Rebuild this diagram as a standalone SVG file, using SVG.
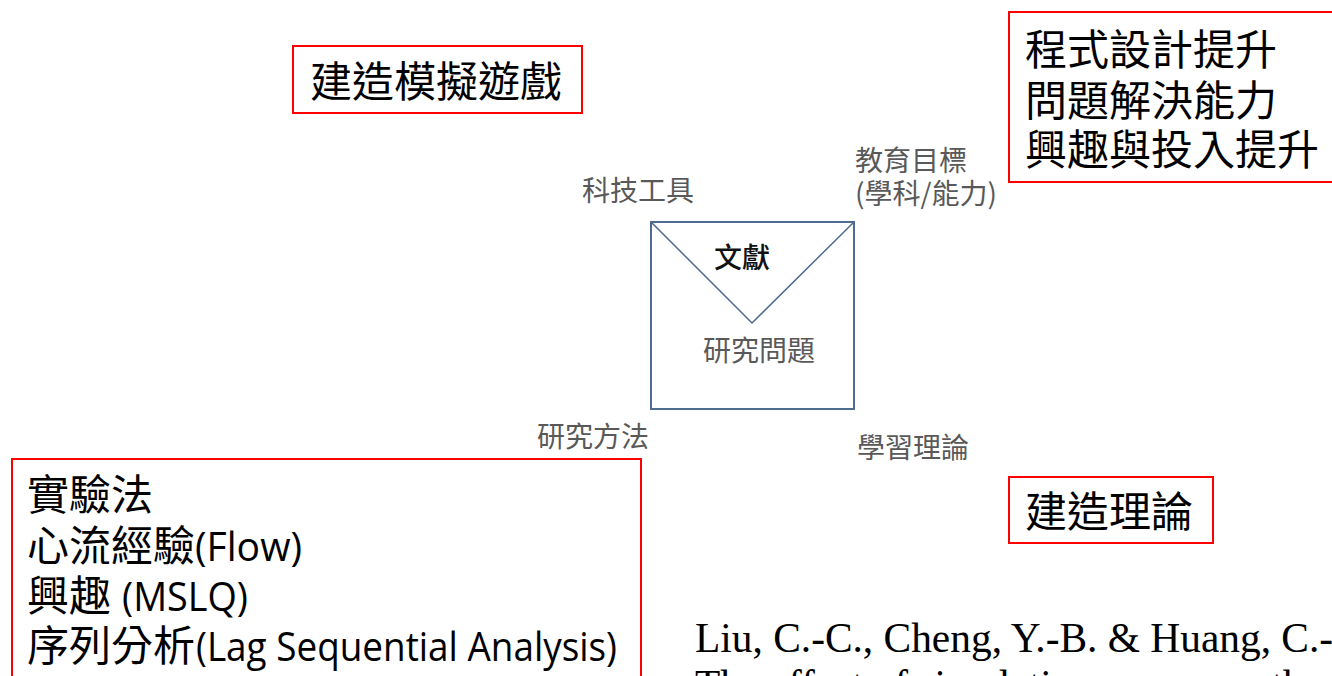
<svg xmlns="http://www.w3.org/2000/svg" width="1332" height="676" viewBox="0 0 1332 676">
<style>
.box{fill:#fff;stroke:#ff0000;stroke-width:2}
.big{font-family:"Noto Sans CJK TC","Noto Sans CJK JP",sans-serif;font-size:42px;fill:#000}
.lat{font-family:"Open Sans","Noto Sans",sans-serif;font-size:40px;fill:#000}
.lbl{font-family:"Noto Sans CJK TC","Noto Sans CJK JP",sans-serif;font-size:28px;fill:#595959}
.ref{font-family:"Liberation Serif","Times New Roman",serif;font-size:41.4px;fill:#000}
</style>
<rect width="1332" height="676" fill="#fff"/>
<g id="game">
<rect class="box" x="293" y="46" width="289" height="67"/>
<text class="big" x="310" y="97">建造模擬遊戲</text>
</g>
<g id="goals">
<rect class="box" x="1009" y="12" width="340" height="170"/>
<text class="big" x="1025" y="65">程式設計提升</text>
<text class="big" x="1025" y="116">問題解決能力</text>
<text class="big" x="1025" y="165">興趣與投入提升</text>
</g>
<g id="theory">
<rect class="box" x="1009" y="477" width="204" height="66"/>
<text class="big" x="1025" y="527">建造理論</text>
</g>
<g id="methods">
<rect class="box" x="12" y="459" width="629" height="240"/>
<text class="big" x="27" y="510">實驗法</text>
<text class="big" x="27" y="561">心流經驗</text>
<text class="lat" x="195" y="561" textLength="107" lengthAdjust="spacingAndGlyphs">(Flow)</text>
<text class="big" x="27" y="611">興趣</text>
<text class="lat" x="122" y="611" textLength="126" lengthAdjust="spacingAndGlyphs">(MSLQ)</text>
<text class="big" x="27" y="661">序列分析</text>
<text class="lat" x="196" y="661" textLength="421" lengthAdjust="spacingAndGlyphs">(Lag Sequential Analysis)</text>
</g>
<g id="center">
<rect x="651" y="222" width="203" height="187" fill="none" stroke="#4e6b92" stroke-width="2"/>
<polyline points="651,222 752,323 854,222" fill="none" stroke="#4e6b92" stroke-width="1.5"/>
<text x="714" y="268" style="font-family:'Noto Sans CJK TC',sans-serif;font-size:28px;font-weight:500;fill:#111">文獻</text>
<text class="lbl" x="703" y="361">研究問題</text>
</g>
<g id="labels">
<text class="lbl" x="582" y="201">科技工具</text>
<text class="lbl" x="855" y="171">教育目標</text>
<text class="lbl" x="855" y="204">(學科/能力)</text>
<text class="lbl" x="537" y="447">研究方法</text>
<text class="lbl" x="857" y="458">學習理論</text>
</g>
<g id="reference">
<text class="ref" x="695" y="652">Liu, C.-C., Cheng, Y.-B. &amp; Huang, C.-C.</text>
<text class="ref" x="695" y="699">The effect of simulation games on the</text>
</g>
<g id="connectors"></g>
</svg>
